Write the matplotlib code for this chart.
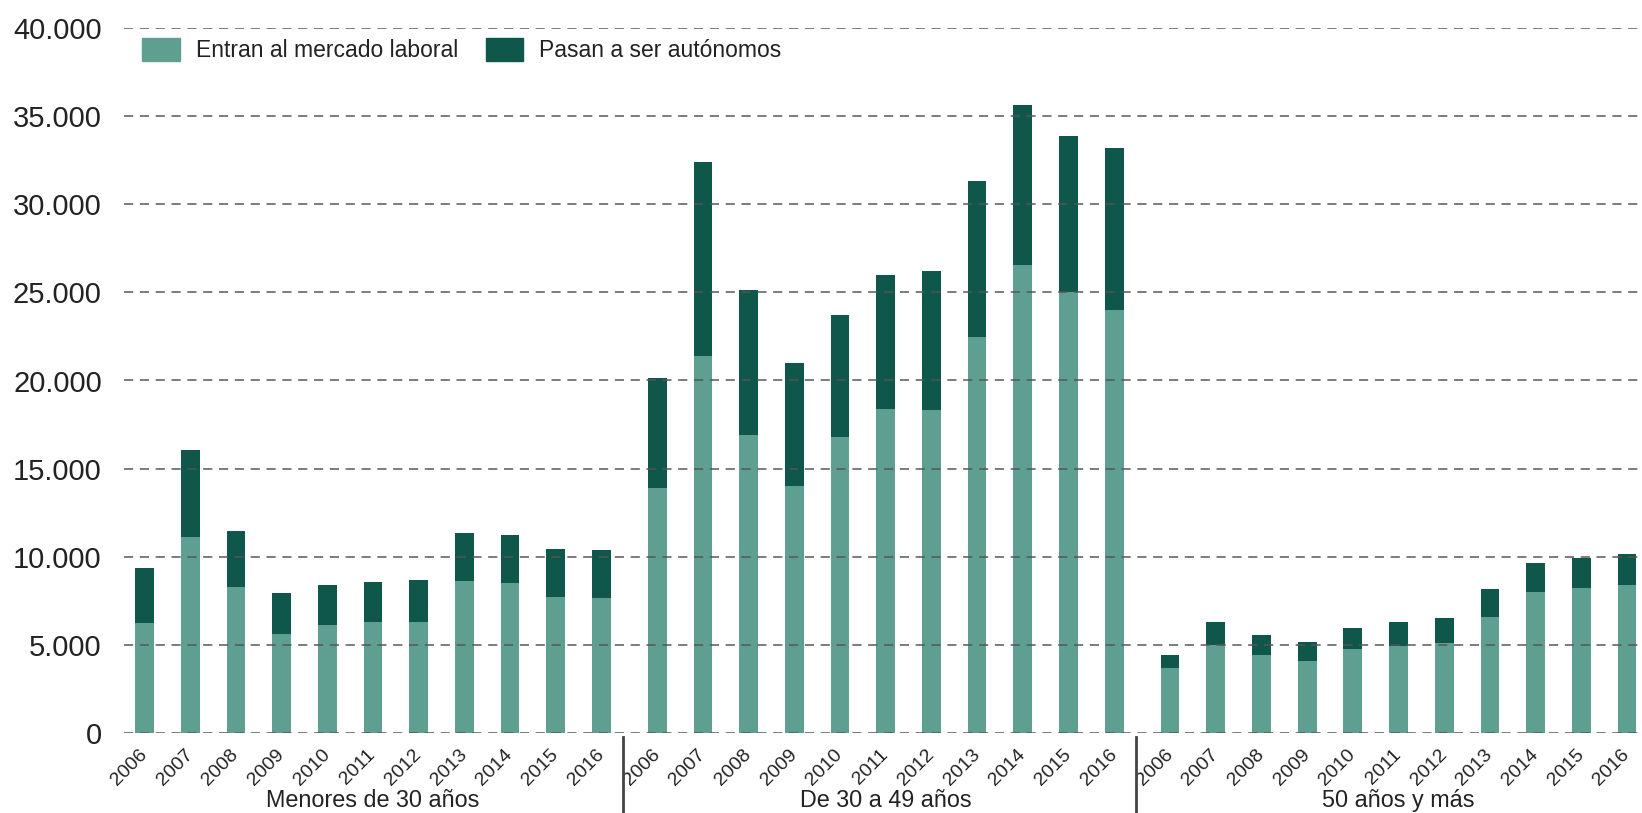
import numpy as np
import matplotlib
matplotlib.use('Agg')
import matplotlib.pyplot as plt
import matplotlib.transforms as mtransforms
from matplotlib.lines import Line2D
from matplotlib.patches import Patch
from matplotlib.ticker import FuncFormatter

plt.rcParams['font.family'] = ['Liberation Sans', 'DejaVu Sans']

years = ['2006', '2007', '2008', '2009', '2010', '2011', '2012', '2013', '2014', '2015', '2016']
groups = ['Menores de 30 años', 'De 30 a 49 años', '50 años y más']

# light segment: enter the labour market
entran_menores30 = [6250, 11140, 8300, 5630, 6140, 6310, 6310, 8640, 8520, 7730, 7670]
entran_30a49 = [13880, 21370, 16890, 14000, 16780, 18380, 18330, 22470, 26550, 25020, 24000]
entran_50mas = [3660, 5020, 4450, 4110, 4790, 4920, 5090, 6570, 7980, 8210, 8380]

# dark segment: become self-employed
autonomos_menores30 = [3125, 4940, 3180, 2320, 2270, 2270, 2380, 2720, 2730, 2720, 2730]
autonomos_30a49 = [6240, 11000, 8220, 6970, 6920, 7600, 7880, 8840, 9070, 8850, 9190]
autonomos_50mas = [790, 1300, 1130, 1080, 1190, 1360, 1420, 1580, 1640, 1700, 1750]

entran = [entran_menores30, entran_30a49, entran_50mas]
autonomos = [autonomos_menores30, autonomos_30a49, autonomos_50mas]

light = '#5e9f91'
dark = '#10574b'
txt = '#222222'

W, H = 1642, 813
fig = plt.figure(figsize=(W / 100, H / 100), dpi=100)
ax = fig.add_axes([124 / W, 80 / H, 1 - 124 / W, 705 / H])

group_step = len(years) + 0.225
bar_w = 0.41

xticks = []
xlabels = []
for g in range(3):
    x = np.arange(len(years)) + g * group_step
    ax.bar(x, entran[g], width=bar_w, color=light, zorder=1)
    ax.bar(x, autonomos[g], width=bar_w, bottom=entran[g], color=dark, zorder=1)
    xticks += list(x)
    xlabels += years

ax.set_ylim(0, 40000)
ax.set_xlim(-0.45, 2 * group_step + len(years) - 1 + 0.33)
ax.set_yticks(np.arange(0, 40001, 5000))
ax.yaxis.set_major_formatter(FuncFormatter(lambda v, p: f'{int(v):,}'.replace(',', '.')))
ax.grid(axis='y', color='#555555', linestyle=(0, (5.5, 4)), linewidth=1.2, alpha=0.9)
ax.set_axisbelow(False)
for s in ax.spines.values():
    s.set_visible(False)
ax.tick_params(axis='y', length=0, pad=16, labelsize=21, labelcolor=txt)
ax.set_xticks(xticks)
ax.set_xticklabels(xlabels, rotation=45, ha='right', va='center', rotation_mode='anchor')
ax.tick_params(axis='x', length=0, pad=14, labelsize=14, labelcolor=txt)

# group labels and separators under the axis
trans = mtransforms.blended_transform_factory(ax.transData, fig.transFigure)
for g in range(3):
    xc = g * group_step + (len(years) - 1) / 2
    ax.text(xc, 1 - 800 / H, groups[g], transform=trans, ha='center', va='center',
            fontsize=16.8, color=txt)
    if g < 2:
        xs = g * group_step + len(years) - 1 + 0.48
        fig.add_artist(Line2D([xs, xs], [1 - 737 / H, 0], transform=trans,
                              color='#444444', linewidth=2))

handles = [Patch(color=light, label='Entran al mercado laboral'),
           Patch(color=dark, label='Pasan a ser autónomos')]
leg = fig.legend(handles=handles, loc='center left', bbox_to_anchor=(142 / W, 1 - 50 / H),
                 bbox_transform=fig.transFigure, ncol=2, frameon=False, fontsize=16.5,
                 handlelength=1.65, handleheight=1.15, handletextpad=0.7,
                 columnspacing=1.2, borderpad=0, borderaxespad=0)
for t in leg.get_texts():
    t.set_color(txt)

fig.savefig('out.png', dpi=100)
